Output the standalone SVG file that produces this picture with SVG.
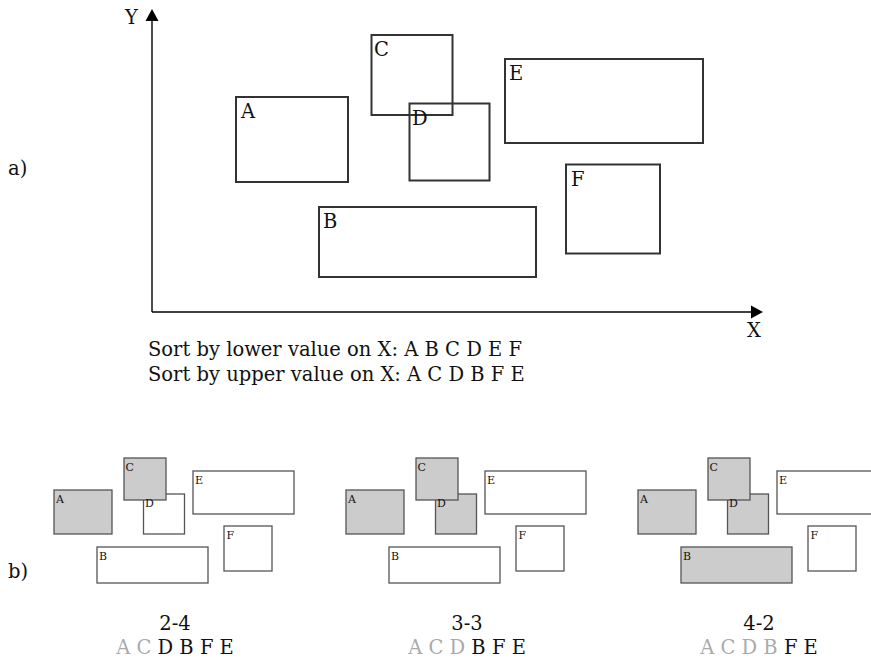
<svg xmlns="http://www.w3.org/2000/svg" width="871" height="661" viewBox="0 0 871 661">
<style>
text{font-family:"DejaVu Serif","Liberation Serif",serif;fill:#111}
.big{fill:none;stroke:#333;stroke-width:2}
.sm{fill:#fff;stroke:#555;stroke-width:1.3}
.sm.g{fill:#ccc}
.lbl{font-size:19.5px}
.sl{font-size:11px}
.txt{font-size:19.5px}
.cap{font-size:19.5px;text-anchor:middle}
.gr{fill:#aaa}
.ax{stroke:#000;stroke-width:1.4;fill:none}
</style>
<g id="axes">
<line class="ax" x1="152" y1="312" x2="152" y2="14"/>
<path d="M152,9 L145.5,21 L158.5,21 z" fill="#000"/>
<line class="ax" x1="152" y1="312" x2="754" y2="312"/>
<path d="M763,312 L751,305.5 L751,318.5 z" fill="#000"/>
<text class="lbl" x="125" y="24">Y</text>
<text class="lbl" x="747" y="337">X</text>
</g>
<text class="txt" x="8" y="175">a)</text>
<text class="txt" x="8" y="578">b)</text>
<g id="A"><rect class="big" x="236" y="97" width="112" height="85"/><text class="lbl" x="241" y="117.5">A</text></g>
<g id="B"><rect class="big" x="319" y="207" width="217" height="70"/><text class="lbl" x="323" y="228">B</text></g>
<g id="C"><rect class="big" x="371.5" y="35" width="81" height="80"/><text class="lbl" x="374" y="55.5">C</text></g>
<g id="D"><rect class="big" x="409.5" y="103.5" width="80" height="77"/><text class="lbl" x="412" y="124.5">D</text></g>
<g id="E"><rect class="big" x="505" y="59" width="198" height="84"/><text class="lbl" x="509" y="79.5">E</text></g>
<g id="F"><rect class="big" x="566" y="164.5" width="94" height="89"/><text class="lbl" x="571" y="186">F</text></g>
<text class="txt" x="148" y="356">Sort by lower value on X: A B C D E F</text>
<text class="txt" x="148" y="381">Sort by upper value on X: A C D B F E</text>

<g id="p1">
<rect class="sm g" x="54" y="490" width="58" height="44"/>
<rect class="sm" x="143.5" y="494" width="41" height="40"/>
<rect class="sm g" x="124" y="458" width="42" height="42"/>
<rect class="sm" x="193" y="471" width="101" height="43"/>
<rect class="sm" x="224" y="526" width="48" height="45"/>
<rect class="sm" x="97" y="547" width="111" height="36"/>
<text class="sl" x="56" y="503">A</text>
<text class="sl" x="145" y="506.5">D</text>
<text class="sl" x="125.5" y="471">C</text>
<text class="sl" x="195" y="483.5">E</text>
<text class="sl" x="226.5" y="538.5">F</text>
<text class="sl" x="99" y="559.5">B</text>
<text class="cap" x="175" y="630">2-4</text>
<text class="cap" x="175" y="654"><tspan class="gr">A C</tspan> D B F E</text>
</g>
<g id="p2">
<rect class="sm g" x="346" y="490" width="58" height="44"/>
<rect class="sm g" x="435.5" y="494" width="41" height="40"/>
<rect class="sm g" x="416" y="458" width="42" height="42"/>
<rect class="sm" x="485" y="471" width="101" height="43"/>
<rect class="sm" x="516" y="526" width="48" height="45"/>
<rect class="sm" x="389" y="547" width="111" height="36"/>
<text class="sl" x="348" y="503">A</text>
<text class="sl" x="437" y="506.5">D</text>
<text class="sl" x="417.5" y="471">C</text>
<text class="sl" x="487" y="483.5">E</text>
<text class="sl" x="518.5" y="538.5">F</text>
<text class="sl" x="391" y="559.5">B</text>
<text class="cap" x="467" y="630">3-3</text>
<text class="cap" x="467" y="654"><tspan class="gr">A C D</tspan> B F E</text>
</g>
<g id="p3">
<rect class="sm g" x="638" y="490" width="58" height="44"/>
<rect class="sm g" x="727.5" y="494" width="41" height="40"/>
<rect class="sm g" x="708" y="458" width="42" height="42"/>
<rect class="sm" x="777" y="471" width="101" height="43"/>
<rect class="sm" x="808" y="526" width="48" height="45"/>
<rect class="sm g" x="681" y="547" width="111" height="36"/>
<text class="sl" x="640" y="503">A</text>
<text class="sl" x="729" y="506.5">D</text>
<text class="sl" x="709.5" y="471">C</text>
<text class="sl" x="779" y="483.5">E</text>
<text class="sl" x="810.5" y="538.5">F</text>
<text class="sl" x="683" y="559.5">B</text>
<text class="cap" x="759" y="630">4-2</text>
<text class="cap" x="759" y="654"><tspan class="gr">A C D B</tspan> F E</text>
</g>
</svg>
